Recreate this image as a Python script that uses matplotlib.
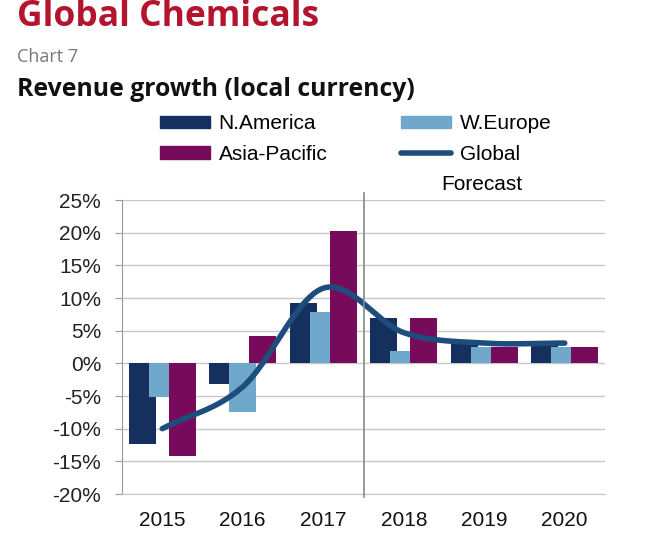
import numpy as np
import matplotlib
matplotlib.use("Agg")
import matplotlib.pyplot as plt
from matplotlib.patches import Patch
from matplotlib.lines import Line2D

plt.rcParams['font.family'] = ['Liberation Sans', 'DejaVu Sans']

years = ["2015", "2016", "2017", "2018", "2019", "2020"]
n_america = [-12.3, -3.2, 9.2, 6.9, 3.0, 3.0]
w_europe = [-5.2, -7.4, 7.8, 1.9, 2.5, 2.5]
asia_pacific = [-14.2, 4.2, 20.3, 6.9, 2.5, 2.5]
global_growth = [-10.0, -3.6, 11.5, 4.7, 3.1, 3.1]
yticks = [25, 20, 15, 10, 5, 0, -5, -10, -15, -20]

c_na = "#15305f"
c_we = "#6fa8cb"
c_ap = "#780a5c"
c_gl = "#1c4d7c"

W, H = 658, 558
fig = plt.figure(figsize=(W / 100, H / 100), dpi=100)
ax = fig.add_axes([122 / W, 1 - 494 / H, (605 - 122) / W, (494 - 200) / H])

x = np.arange(len(years))
bw = 0.335
step = 0.25
ax.bar(x - step, n_america, width=bw, color=c_na, zorder=2)
ax.bar(x, w_europe, width=bw, color=c_we, zorder=3)
ax.bar(x + step, asia_pacific, width=bw, color=c_ap, zorder=4)

# smooth (Catmull-Rom) rendering of the global line
def catmull(px, py, n=30):
    px = np.asarray(px, float); py = np.asarray(py, float)
    P = np.column_stack([px, py])
    P = np.vstack([P[0] - (P[1] - P[0]), P, P[-1] + (P[-1] - P[-2])])
    out = []
    for i in range(1, len(P) - 2):
        p0, p1, p2, p3 = P[i - 1], P[i], P[i + 1], P[i + 2]
        t = np.linspace(0, 1, n)[:, None]
        seg = 0.5 * ((2 * p1) + (-p0 + p2) * t + (2 * p0 - 5 * p1 + 4 * p2 - p3) * t ** 2
                     + (-p0 + 3 * p1 - 3 * p2 + p3) * t ** 3)
        out.append(seg)
    s = np.vstack(out)
    return s[:, 0], s[:, 1]

sx, sy = catmull(x, global_growth)
ax.plot(sx, sy, color=c_gl, lw=4, solid_capstyle='round', zorder=5)

ax.set_xlim(-0.5, len(years) - 0.5)
ax.set_ylim(-20, 25)
ax.set_yticks(yticks)
ax.set_yticklabels([f"{v}%" for v in yticks], fontsize=15, color="#222222")
ax.set_xticks(x)
ax.set_xticklabels(years, fontsize=15, color="#111111")
ax.tick_params(axis='x', length=0, pad=12)
ax.tick_params(axis='y', length=5, color="#999999", pad=10)
ax.grid(axis='y', color="#c8c8c8", lw=1, zorder=0)
ax.set_axisbelow(True)
for s in ['top', 'right']:
    ax.spines[s].set_visible(False)
ax.spines['left'].set_color("#999999")
ax.spines['bottom'].set_color("#c8c8c8")
ax.axvline(2.5, color="#888888", lw=1.2, ymin=-0.01, ymax=1.025, clip_on=False, zorder=6)

handles = [Patch(color=c_na, label="N.America"), Patch(color=c_ap, label="Asia-Pacific"),
           Patch(color=c_we, label="W.Europe"),
           Line2D([0], [0], color=c_gl, lw=4, solid_capstyle='round', label="Global")]
fig.legend(handles=handles, ncol=2, loc='upper left', bbox_to_anchor=(152 / W, 1 - 106 / H),
           frameon=False, fontsize=15, handlelength=2.4, handleheight=0.58,
           columnspacing=3.55, labelspacing=0.55, handletextpad=0.4, borderaxespad=0)

fig.text(482 / W, 1 - 184 / H, "Forecast", ha='center', va='center', fontsize=15)

fig.text(17 / W, 1 - 17 / H, "Global Chemicals", ha='left', va='center', fontsize=25.5,
         fontweight='bold', color="#b4152e", family=['Open Sans', 'DejaVu Sans'])
fig.text(17 / W, 1 - 57 / H, "Chart 7", ha='left', va='center', fontsize=13, color="#777777",
         family=['Open Sans', 'DejaVu Sans'])
fig.text(17 / W, 1 - 89 / H, "Revenue growth (local currency)", ha='left', va='center',
         fontsize=17.8, fontweight='bold', color="#111111", family=['Open Sans', 'DejaVu Sans'])

fig.savefig("out.png", dpi=100)
